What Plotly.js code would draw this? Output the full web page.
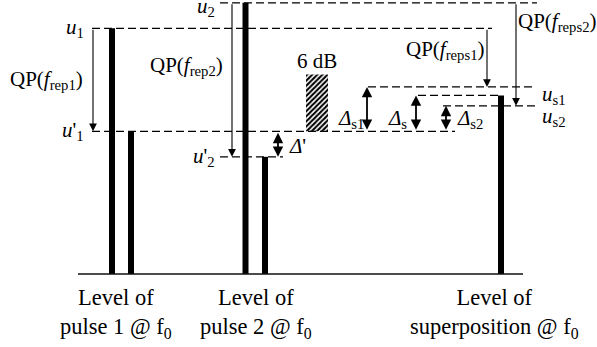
<!DOCTYPE html>
<html>
<head>
<meta charset="utf-8">
<script src="https://cdn.plot.ly/plotly-3.0.1.min.js"></script>
<style>
  html, body { margin: 0; padding: 0; background: #fff; }
  #chart { width: 597px; height: 347px; }
</style>
</head>
<body>
<div id="chart"></div>
<script>
// Spectral levels (dB above the baseline) of the two pulses and their superposition
const levelNames = ['u1', "u'1", 'u2', "u'2", 'us1', 'us', 'us2'];
const levelValues = [26.0, 15.1, 28.7, 12.4, 19.8, 18.9, 17.8];
const L = Object.fromEntries(levelNames.map((n, i) => [n, levelValues[i]]));

// Spectral lines: pulse 1 (main + next line), pulse 2 (main + next line), superposition
const lineLevels = [L.u1, L["u'1"], L.u2, L["u'2"], L.us];
const refSpan = 6; // dB, hatched reference block

const groupLabels = [
  'Level of<br>pulse 1 @ f<sub>0</sub>',
  'Level of<br>pulse 2 @ f<sub>0</sub>',
  'Level of<br>superposition @ f<sub>0</sub>'
];

// Horizontal placement (drawing units along x)
const lineX = [112, 131, 245.5, 265, 501];
const groupX = [116, 256, 494];

const FONT = '"Liberation Serif", "Times New Roman", Times, serif';
const PX_PER_DB = 9.45;

const data = [
  {
    type: 'bar', x: lineX, y: lineLevels, width: 6,
    marker: { color: '#000', line: { width: 0 } },
    hoverinfo: 'skip', showlegend: false
  },
  {
    type: 'bar', x: [317], y: [refSpan], base: [L["u'1"]], width: 22,
    marker: {
      color: '#fff', line: { width: 0 },
      pattern: { shape: '/', fgcolor: '#000', bgcolor: '#fff', size: 3.6, solidity: 0.55 }
    },
    hoverinfo: 'skip', showlegend: false
  }
];

const dash = '8px,4px';
function hline(y, x0, x1) {
  return { type: 'line', xref: 'x', yref: 'y', x0, x1, y0: y, y1: y,
           line: { color: '#000', width: 1.3, dash } };
}
const shapes = [
  hline(L.u1, 92, 492),
  hline(L["u'1"], 92, 455),
  hline(L.u2, 220, 537),
  hline(L["u'2"], 220, 283),
  hline(L.us1, 368, 535),
  hline(L.us, 418, 498),
  hline(L.us2, 443, 535),
  { type: 'line', xref: 'x', yref: 'y', x0: 78, x1: 523, y0: 0, y1: 0,
    line: { color: '#111', width: 1.5 } }
];

function arrow(x, yFrom, yTo, both) {
  const a = { x, y: yTo, ax: x, ay: yFrom, xref: 'x', yref: 'y', axref: 'x', ayref: 'y',
              showarrow: true, text: '', arrowcolor: '#000', standoff: 0, startstandoff: 0,
              arrowhead: 2, arrowsize: both ? 1.15 : 1.4, arrowwidth: both ? 1.8 : 1.1 };
  if (both) { a.arrowside = 'end+start'; a.startarrowhead = 2; a.startarrowsize = 1.15; }
  return a;
}
function label(x, y, text, xanchor, size) {
  return { x, y, xref: 'x', yref: 'y', text, showarrow: false,
           xanchor: xanchor || 'center', yanchor: 'middle',
           font: { family: FONT, size: size || 21, color: '#000' } };
}
// y positions for free labels are given in dB on the same scale
const yAt = px => (274 - px) / PX_PER_DB;

const annotations = [
  arrow(93, L.u1, L["u'1"]),
  arrow(232, L.u2, L["u'2"]),
  arrow(487, L.u1, L.us1),
  arrow(516, L.u2, L.us2),
  arrow(278, L["u'1"], L["u'2"], true),
  arrow(367, L["u'1"], L.us1, true),
  arrow(416, L["u'1"], L.us, true),
  arrow(446, L["u'1"], L.us2, true),

  label(86, L.u1, '<i>u</i><sub>1</sub>', 'right'),
  label(86, L["u'1"], "<i>u</i>'<sub>1</sub>", 'right'),
  label(217, yAt(7), '<i>u</i><sub>2</sub>', 'right'),
  label(217, L["u'2"], "<i>u</i>'<sub>2</sub>", 'right'),
  label(46, yAt(80), 'QP(<i>f</i><sub>rep1</sub>)'),
  label(186, yAt(66), 'QP(<i>f</i><sub>rep2</sub>)'),
  label(445, yAt(50), 'QP(<i>f</i><sub>reps1</sub>)'),
  label(557, yAt(22), 'QP(<i>f</i><sub>reps2</sub>)'),
  label(317, yAt(61), '6 dB'),
  label(287, yAt(146), "<i>Δ</i>'", 'left'),
  label(351, yAt(119), '<i>Δ</i><sub>s1</sub>'),
  label(397, yAt(119), '<i>Δ</i><sub>s</sub>'),
  label(470, yAt(119), '<i>Δ</i><sub>s2</sub>'),
  label(540, yAt(95), '<i>u</i><sub>s1</sub>', 'left'),
  label(540, yAt(117), '<i>u</i><sub>s2</sub>', 'left')
].concat(groupLabels.map((t, i) => label(groupX[i], yAt(313), t, 'center', 22.5)));

const layout = {
  width: 597, height: 347,
  margin: { l: 0, r: 0, t: 0, b: 0 },
  paper_bgcolor: '#fff', plot_bgcolor: '#fff',
  barmode: 'overlay',
  showlegend: false,
  font: { family: FONT },
  xaxis: { range: [0, 597], visible: false, fixedrange: true },
  yaxis: { range: [yAt(347), yAt(0)], visible: false, fixedrange: true },
  shapes, annotations
};

Plotly.newPlot('chart', data, layout, { displayModeBar: false, staticPlot: true });
</script>
</body>
</html>
